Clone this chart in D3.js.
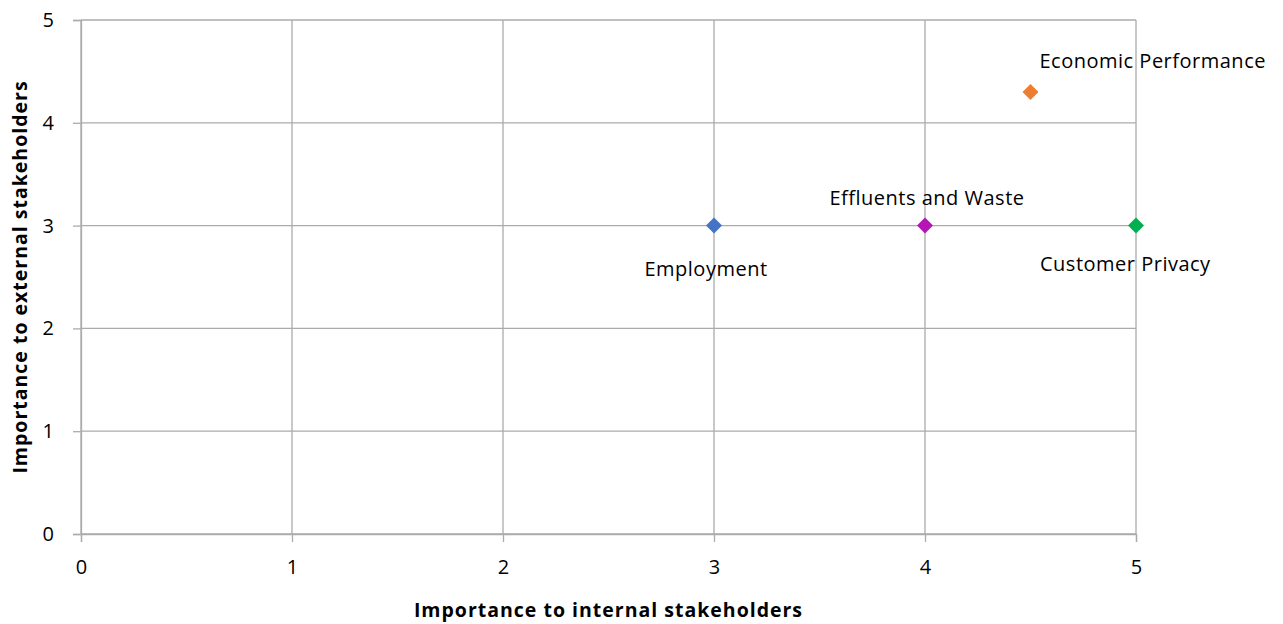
<!DOCTYPE html>
<html>
<head>
<meta charset="utf-8">
<script src="https://cdn.jsdelivr.net/npm/d3@7"></script>
<style>
  html, body { margin: 0; padding: 0; background: #fff; }
  svg { display: block; font-family: "Open Sans", "Liberation Sans", sans-serif; }
</style>
</head>
<body>
<svg id="chart" width="1283" height="624"></svg>
<script>
// Materiality matrix: topics plotted by importance to internal vs external stakeholders
const topics   = ["Employment", "Effluents and Waste", "Customer Privacy", "Economic Performance"];
const internal = [3, 4, 5, 4.5];
const external = [3, 3, 3, 4.3];
const colors   = ["#4472C4", "#B515B5", "#00B050", "#ED7D31"];
const tickValues = [0, 1, 2, 3, 4, 5];

const svg = d3.select("#chart");
const margin = { left: 81, right: 1283 - 1136, top: 20, bottom: 624 - 534 };
const width = 1283, height = 624;

const x = d3.scaleLinear().domain([0, 5]).range([margin.left, width - margin.right]);
const y = d3.scaleLinear().domain([0, 5]).range([height - margin.bottom, margin.top]);

const gridColor = "#ABABAB";

// Gridlines
const grid = svg.append("g");
grid.selectAll("line.v").data(tickValues).join("line")
  .attr("x1", d => x(d)).attr("x2", d => x(d))
  .attr("y1", y(5)).attr("y2", y(0))
  .attr("stroke", gridColor).attr("stroke-width", 1.3);
grid.selectAll("line.h").data(tickValues).join("line")
  .attr("x1", x(0)).attr("x2", x(5))
  .attr("y1", d => y(d)).attr("y2", d => y(d))
  .attr("stroke", gridColor).attr("stroke-width", 1.3);

// Axes
const xAxis = svg.append("g")
  .attr("transform", `translate(0,${y(0)})`)
  .call(d3.axisBottom(x).tickValues(tickValues).tickFormat(d3.format("d")).tickSize(8).tickPadding(18));
const yAxis = svg.append("g")
  .attr("transform", `translate(${x(0)},0)`)
  .call(d3.axisLeft(y).tickValues(tickValues).tickFormat(d3.format("d")).tickSize(8).tickPadding(19));

[xAxis, yAxis].forEach(g => {
  g.select(".domain").attr("stroke", gridColor).attr("stroke-width", 1.3);
  g.selectAll(".tick line").attr("stroke", gridColor).attr("stroke-width", 1.3);
  g.selectAll(".tick text").attr("fill", "#000").style("font-size", "20px")
    .style("font-family", "'Open Sans', sans-serif");
});

// Axis titles
svg.append("text")
  .attr("x", (x(0) + x(5)) / 2).attr("y", 617)
  .attr("text-anchor", "middle")
  .style("font-size", "19.5px").style("font-weight", "bold").style("letter-spacing", "1px")
  .text("Importance to internal stakeholders");
svg.append("text")
  .attr("transform", `translate(27,${(y(0) + y(5)) / 2}) rotate(-90)`)
  .attr("text-anchor", "middle")
  .style("font-size", "19.5px").style("font-weight", "bold").style("letter-spacing", "1px")
  .text("Importance to external stakeholders");

// Diamond markers
const points = topics.map((t, i) => ({ name: t, ix: internal[i], ex: external[i], color: colors[i] }));
svg.append("g").selectAll("path").data(points).join("path")
  .attr("transform", d => `translate(${x(d.ix)},${y(d.ex)})`)
  .attr("d", "M0,-8L8,0L0,8L-8,0Z")
  .attr("fill", d => d.color);

// Data labels
const labelPos = {
  "Employment":           { dx: -8,  dy: 50,  anchor: "middle" },
  "Effluents and Waste":  { dx: 2,   dy: -21, anchor: "middle" },
  "Customer Privacy":     { dx: -96, dy: 45,  anchor: "start" },
  "Economic Performance": { dx: 9,   dy: -24, anchor: "start" }
};
svg.append("g").selectAll("text").data(points).join("text")
  .attr("x", d => x(d.ix) + labelPos[d.name].dx)
  .attr("y", d => y(d.ex) + labelPos[d.name].dy)
  .attr("text-anchor", d => labelPos[d.name].anchor)
  .style("font-size", "20px").style("letter-spacing", "0.5px")
  .attr("fill", "#000")
  .text(d => d.name);
</script>
</body>
</html>
